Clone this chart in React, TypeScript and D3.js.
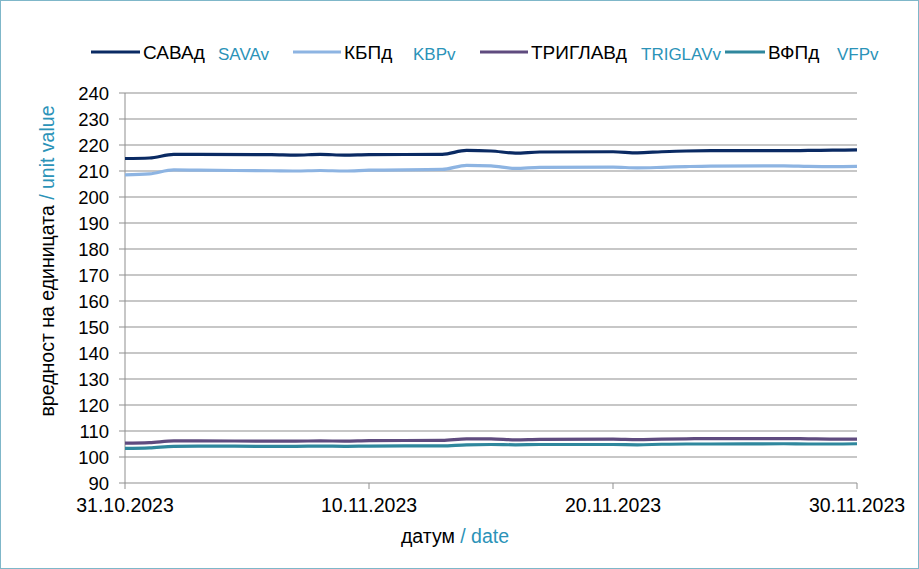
import React, { useEffect, useRef } from 'react';
import * as d3 from 'd3';

const dates = [
  '2023-10-31', '2023-11-01', '2023-11-02', '2023-11-03', '2023-11-06', '2023-11-07',
  '2023-11-08', '2023-11-09', '2023-11-10', '2023-11-13', '2023-11-14', '2023-11-15',
  '2023-11-16', '2023-11-17', '2023-11-20', '2023-11-21', '2023-11-22', '2023-11-23',
  '2023-11-24', '2023-11-27', '2023-11-28', '2023-11-29', '2023-11-30',
];

const sava = [214.8, 215.0, 216.4, 216.4, 216.3, 216.1, 216.4, 216.1, 216.3, 216.4, 217.9, 217.7,
  216.9, 217.3, 217.4, 217.0, 217.4, 217.7, 217.8, 217.8, 217.9, 218.0, 218.1];
const kbp = [208.5, 208.9, 210.4, 210.3, 210.1, 210.0, 210.2, 210.0, 210.3, 210.6, 212.2, 212.0,
  211.0, 211.4, 211.5, 211.2, 211.4, 211.7, 211.9, 212.0, 211.8, 211.7, 211.8];
const triglav = [105.3, 105.5, 106.2, 106.2, 106.1, 106.1, 106.2, 106.1, 106.3, 106.4, 107.0, 107.0,
  106.6, 106.8, 106.9, 106.7, 106.9, 107.0, 107.1, 107.1, 107.0, 106.9, 106.9];
const vfp = [103.3, 103.5, 104.1, 104.2, 104.1, 104.1, 104.2, 104.1, 104.2, 104.3, 104.7, 104.8,
  104.7, 104.8, 104.8, 104.7, 104.9, 105.0, 105.0, 105.1, 105.0, 105.0, 105.1];

const xTicks = ['2023-10-31', '2023-11-10', '2023-11-20', '2023-11-30'];
const yTicks = d3.range(90, 241, 10);

const series = [
  { name: 'САВАд', en: 'SAVAv', values: sava, color: '#0a2a63' },
  { name: 'КБПд', en: 'KBPv', values: kbp, color: '#8db4e2' },
  { name: 'ТРИГЛАВд', en: 'TRIGLAVv', values: triglav, color: '#5f4b7f' },
  { name: 'ВФПд', en: 'VFPv', values: vfp, color: '#2f879d' },
];

const TEAL = '#2b93b8';
const FONT = '"Liberation Sans", Arial, sans-serif';

const App: React.FC = () => {
  const svgRef = useRef<SVGSVGElement>(null);

  useEffect(() => {
    if (!svgRef.current) return;
    const W = 919, H = 569;
    const margin = { top: 93, right: 62, bottom: 86, left: 125 };
    const width = W - margin.left - margin.right;
    const height = H - margin.top - margin.bottom;

    const svg = d3.select(svgRef.current);
    svg.selectAll('*').remove();

    svg.append('rect')
      .attr('x', 0.5).attr('y', 0.5)
      .attr('width', W - 1).attr('height', H - 1)
      .attr('fill', '#fff')
      .attr('stroke', '#7fb7c9');

    const parse = d3.timeParse('%Y-%m-%d');
    const fmt = d3.timeFormat('%d.%m.%Y');
    const parsed = dates.map(d => parse(d) as Date);

    const x = d3.scaleTime()
      .domain([parse(xTicks[0]) as Date, parse(xTicks[xTicks.length - 1]) as Date])
      .range([0, width]);
    const y = d3.scaleLinear().domain([90, 240]).range([height, 0]);

    const g = svg.append('g').attr('transform', `translate(${margin.left},${margin.top})`);

    // horizontal grid
    g.append('g')
      .selectAll('line')
      .data(yTicks)
      .join('line')
      .attr('x1', -6).attr('x2', width)
      .attr('y1', d => y(d)).attr('y2', d => y(d))
      .attr('stroke', '#8f8f8f')
      .attr('stroke-width', 1);

    // y axis line
    g.append('line')
      .attr('x1', 0).attr('x2', 0).attr('y1', 0).attr('y2', height)
      .attr('stroke', '#8f8f8f');

    // x ticks
    g.append('g')
      .selectAll('line')
      .data(xTicks)
      .join('line')
      .attr('x1', d => x(parse(d) as Date)).attr('x2', d => x(parse(d) as Date))
      .attr('y1', height).attr('y2', height + 6)
      .attr('stroke', '#8f8f8f');

    // y labels
    g.append('g')
      .selectAll('text')
      .data(yTicks)
      .join('text')
      .attr('x', -16)
      .attr('y', d => y(d))
      .attr('dy', '0.36em')
      .attr('text-anchor', 'end')
      .attr('font-family', FONT)
      .attr('font-size', 18.5)
      .attr('fill', '#000')
      .text(d => d);

    // x labels
    g.append('g')
      .selectAll('text')
      .data(xTicks)
      .join('text')
      .attr('x', d => x(parse(d) as Date))
      .attr('y', height + 29)
      .attr('text-anchor', 'middle')
      .attr('font-family', FONT)
      .attr('font-size', 19.5)
      .attr('fill', '#000')
      .text(d => fmt(parse(d) as Date));

    // lines
    const line = d3.line<number>()
      .x((_, i) => x(parsed[i]))
      .y(d => y(d))
      .curve(d3.curveMonotoneX);

    series.forEach(s => {
      g.append('path')
        .datum(s.values)
        .attr('fill', 'none')
        .attr('stroke', s.color)
        .attr('stroke-width', 3.2)
        .attr('stroke-linejoin', 'round')
        .attr('d', line);
    });

    // axis titles
    const xt = svg.append('text')
      .attr('x', 455).attr('y', 543)
      .attr('text-anchor', 'middle')
      .attr('font-family', FONT)
      .attr('font-size', 19.5);
    xt.append('tspan').attr('fill', '#000').text('датум ');
    xt.append('tspan').attr('fill', TEAL).text('/ date');

    const yt = svg.append('text')
      .attr('transform', 'translate(54,261) rotate(-90)')
      .attr('text-anchor', 'middle')
      .attr('font-family', FONT)
      .attr('font-size', 19.5);
    yt.append('tspan').attr('fill', '#000').text('вредност на единицата ');
    yt.append('tspan').attr('fill', TEAL).text('/ unit value');

    // legend
    const legendX = [91, 293, 480, 725];
    const enX = [218, 413, 641, 837];
    const lineLen = [49, 48, 48, 40];
    series.forEach((s, i) => {
      const lg = svg.append('g');
      lg.append('line')
        .attr('x1', legendX[i]).attr('x2', legendX[i] + lineLen[i])
        .attr('y1', 52).attr('y2', 52)
        .attr('stroke', s.color)
        .attr('stroke-width', 3.2);
      lg.append('text')
        .attr('x', legendX[i] + lineLen[i] + 3).attr('y', 59)
        .attr('font-family', FONT)
        .attr('font-size', 19)
        .attr('fill', '#000')
        .text(s.name);
      lg.append('text')
        .attr('x', enX[i]).attr('y', 59.5)
        .attr('font-family', FONT)
        .attr('font-size', 17)
        .attr('fill', TEAL)
        .text(s.en);
    });
  }, []);

  return (
    <svg
      ref={svgRef}
      width={919}
      height={569}
      style={{ position: 'absolute', left: 0, top: 0, display: 'block' }}
    />
  );
};

export default App;
